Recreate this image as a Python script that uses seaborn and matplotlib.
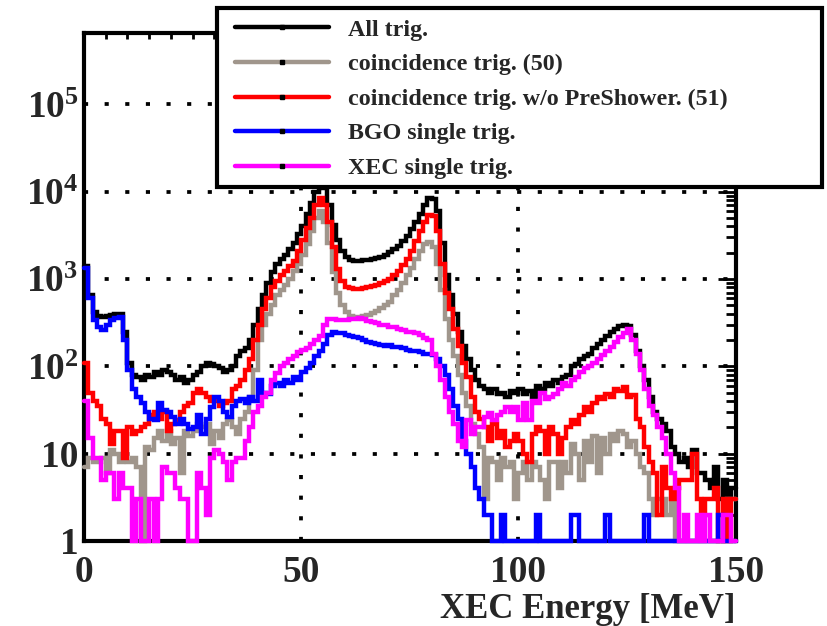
import numpy as np
import pandas as pd
import matplotlib
matplotlib.use("Agg")
import matplotlib.pyplot as plt
import seaborn as sns
from matplotlib.lines import Line2D
from matplotlib.patches import Rectangle
from matplotlib.ticker import MultipleLocator, LogLocator, NullFormatter

# ---------------- data (1 MeV bins, 0..150 MeV) ----------------
bin_edges = list(range(0, 151))

all_trig = [1400, 650, 420, 380, 370, 380, 390, 400, 400, 250,
            110, 80, 75, 70, 80, 75, 85, 80, 90, 85,
            80, 70, 75, 65, 70, 80, 85, 100, 110, 105,
            100, 95, 85, 90, 100, 130, 150, 160, 200, 300,
            450, 650, 900, 1200, 1500, 1700, 1900, 2200, 2600, 3300,
            4000, 5500, 7500, 10000, 13000, 11000, 7000, 4200, 2800, 2100,
            1800, 1650, 1600, 1600, 1650, 1650, 1700, 1750, 1800, 1900,
            2050, 2200, 2400, 2700, 3100, 3700, 4500, 5500, 7000, 8500,
            8200, 6000, 2600, 1100, 650, 400, 250, 170, 120, 90,
            70, 60, 55, 50, 55, 48, 50, 45, 52, 50,
            55, 48, 52, 45, 60, 55, 65, 60, 70, 65,
            75, 80, 100, 105, 120, 130, 140, 160, 180, 200,
            220, 250, 270, 290, 300, 290, 230, 150, 100, 70,
            45, 30, 25, 22, 18, 12, 10, 8, 9, 7,
            11, 6, 6, 5, 4, 7, 3, 5, 3, 4]

coinc50 = [7, 9, 8, 8, 9, 6, 11, 10, 8, 9,
           8, 9, 7, 1, 12, 11, 15, 18, 14, 18,
           13, 15, 6, 18, 16, 18, 22, 20, 22, 13,
           18, 15, 22, 24, 20, 17, 25, 30, 45, 90,
           200, 300, 400, 500, 650, 750, 850, 1000, 1250, 1500,
           1900, 2500, 3500, 5000, 6000, 4500, 2600, 1200, 700, 500,
           420, 380, 370, 370, 380, 390, 410, 430, 460, 500,
           550, 650, 750, 900, 1100, 1350, 1700, 2100, 2500, 2650,
           2300, 1500, 750, 350, 200, 130, 80, 50, 35, 22,
           17, 12, 3, 9, 8, 5, 9, 7, 8, 3,
           6, 8, 5, 8, 7, 5, 3, 8, 8, 4,
           8, 6, 13, 10, 5, 14, 8, 16, 6, 15,
           10, 17, 14, 18, 17, 12, 14, 10, 7, 6,
           3, 2, 3, 3, 2, 3, 1, 1, 1, 1,
           1, 1, 1, 1, 1, 1, 1, 1, 3, 3]

coinc51 = [110, 50, 40, 35, 25, 22, 13, 18, 18, 9,
           20, 17, 18, 20, 22, 28, 30, 25, 30, 18,
           22, 24, 30, 35, 38, 50, 55, 50, 45, 40,
           40, 35, 38, 40, 55, 60, 70, 90, 120, 200,
           300, 450, 600, 800, 950, 1100, 1250, 1400, 1600, 2100,
           2800, 3800, 5000, 7000, 8500, 7000, 4500, 2300, 1300, 950,
           820, 780, 760, 770, 790, 810, 830, 860, 900, 950,
           1000, 1100, 1250, 1450, 1700, 2100, 2700, 3500, 4500, 5400,
           5200, 3500, 1500, 700, 450, 270, 170, 110, 75, 45,
           30, 25, 20, 14, 22, 15, 18, 12, 14, 17,
           14, 10, 8, 17, 20, 18, 10, 20, 17, 10,
           15, 20, 24, 22, 28, 34, 30, 38, 45, 42,
           48, 45, 55, 52, 58, 45, 47, 25, 20, 12,
           8, 6, 2, 7, 4, 3, 4, 5, 5, 5,
           10, 3, 2, 3, 3, 4, 1, 3, 1, 3]

bgo_single = [1350, 600, 340, 280, 260, 300, 340, 360, 370, 200,
              90, 55, 45, 38, 30, 25, 24, 38, 32, 30,
              26, 22, 25, 22, 19, 20, 28, 17, 25, 34,
              45, 40, 30, 26, 35, 40, 42, 38, 45, 40,
              70, 50, 48, 60, 65, 60, 70, 65, 75, 70,
              85, 95, 110, 130, 150, 180, 230, 250, 240, 240,
              230, 220, 215, 210, 200, 190, 185, 180, 175, 170,
              175, 165, 165, 160, 155, 150, 150, 145, 140, 140,
              135, 120, 100, 80, 55, 35, 25, 14, 10, 7,
              4, 3, 2, 2, 1, 1, 2, 1, 1, 1,
              1, 1, 1, 1, 2, 1, 1, 1, 1, 1,
              1, 1, 2, 2, 1, 1, 1, 1, 1, 1,
              2, 1, 1, 1, 1, 1, 1, 1, 1, 2,
              1, 1, 1, 1, 1, 1, 1, 1, 1, 1,
              1, 1, 1, 1, 1, 1, 2, 1, 1, 1]

xec_single = [40, 15, 9, 9, 5, 6, 6, 3, 6, 4,
              4, 1, 3, 1, 1, 3, 1, 3, 7, 6,
              6, 4, 3, 3, 1, 1, 6, 4, 2, 9,
              11, 10, 8, 5, 8, 9, 9, 14, 20, 30,
              35, 44, 50, 70, 83, 100, 110, 120, 130, 145,
              155, 160, 180, 200, 220, 300, 350, 350, 340, 335,
              340, 345, 350, 355, 350, 330, 320, 310, 300, 295,
              285, 280, 270, 260, 250, 245, 240, 230, 210, 200,
              140, 100, 70, 45, 30, 22, 14, 12, 24, 17,
              20, 20, 26, 29, 24, 28, 30, 34, 30, 34,
              24, 38, 24, 40, 38, 50, 42, 45, 48, 55,
              65, 60, 70, 75, 85, 95, 100, 110, 120, 135,
              150, 165, 190, 215, 240, 270, 200, 140, 90, 55,
              35, 28, 20, 15, 10, 6, 4, 1, 2, 1,
              1, 2, 1, 2, 1, 1, 1, 2, 2, 1]

trigger_names = ["All trig.",
                 "coincidence trig. (50)",
                 "coincidence trig. w/o PreShower. (51)",
                 "BGO single trig.",
                 "XEC single trig."]
series_values = [all_trig, coinc50, coinc51, bgo_single, xec_single]
series_colors = ["#000000", "#a0968c", "#ff0000", "#0000ff", "#ff00ff"]

# ---------------- long-form table ----------------
rows = []
for name, vals in zip(trigger_names, series_values):
    ext = list(vals) + [vals[-1]]
    for e, v in zip(bin_edges, ext):
        rows.append({"energy": e, "counts": v, "trigger": name})
df = pd.DataFrame(rows)

# ---------------- style ----------------
sns.set_theme(style="white")
plt.rcParams.update({
    "font.family": ["Liberation Serif", "DejaVu Serif"],
    "font.weight": "bold",
    "mathtext.fontset": "custom",
    "mathtext.rm": "Liberation Serif:bold",
    "mathtext.it": "Liberation Serif:italic:bold",
    "mathtext.bf": "Liberation Serif:bold",
    "axes.edgecolor": "black",
    "axes.linewidth": 3,
})

fig = plt.figure(figsize=(8.27, 6.26), dpi=100)
ax = fig.add_axes([0.1016, 0.1358, 0.788, 0.811])

sns.lineplot(data=df, x="energy", y="counts", hue="trigger",
             hue_order=trigger_names, palette=series_colors,
             drawstyle="steps-post", linewidth=3.2, estimator=None,
             sort=False, legend=False, ax=ax)
for ln in ax.lines:
    ln.set_zorder(3)
    ln.set_clip_on(False)
    ln.set_solid_joinstyle("miter")

ax.set_yscale("log")
ax.set_xlim(0, 150)
ax.set_ylim(1, 6.5e5)

ax.set_xticks([0, 50, 100, 150])
ax.set_xticklabels(["0", "50", "100", "150"])
ax.xaxis.set_minor_locator(MultipleLocator(5))
ax.set_yticks([1, 10, 100, 1e3, 1e4, 1e5])
ax.set_yticklabels(["1", "10", r"$10^{2}$", r"$10^{3}$", r"$10^{4}$", r"$10^{5}$"])
ax.yaxis.set_minor_locator(LogLocator(base=10, subs=range(2, 10)))
ax.yaxis.set_minor_formatter(NullFormatter())

ax.tick_params(which="both", direction="in", top=True, right=True,
               width=2, color="black", labelsize=27)
ax.tick_params(axis="y", which="major", length=13, pad=4)
ax.tick_params(axis="y", which="minor", length=7)
ax.tick_params(axis="x", which="major", length=13, pad=10)
ax.tick_params(axis="x", which="minor", length=4)

ax.grid(True, which="major", color="black", linestyle=(0, (1.1, 4.4)),
        linewidth=2.7)
for sp in ax.spines.values():
    sp.set_linewidth(3)
    sp.set_color("black")
    sp.set_zorder(2.5)

ax.set_xlabel("XEC Energy [MeV]", loc="right", fontsize=25,
              fontweight="bold", labelpad=2)
ax.set_ylabel("")

# legend: separate frame rectangle + frameless legend placed inside it
W, H = 827.0, 626.0
frame = Rectangle((217 / W, 1 - 187 / H), (822 - 217) / W, (187 - 8) / H,
                  transform=fig.transFigure, facecolor="white",
                  edgecolor="black", linewidth=3, zorder=4)
fig.patches.append(frame)

handles = [Line2D([0], [0], color=c, lw=3.2, marker="s", markersize=3,
                  markerfacecolor="black", markeredgecolor="black")
           for c in series_colors]
leg = fig.legend(handles, trigger_names, loc="upper left",
                 bbox_to_anchor=(235 / W, 1 - 19 / H),
                 frameon=False, fontsize=17.3, handlelength=3.9,
                 handletextpad=0.8, labelspacing=0.53, borderpad=0,
                 borderaxespad=0, numpoints=1)
leg.set_zorder(5)
for t in leg.get_texts():
    t.set_fontweight("bold")

fig.savefig("out.png", dpi=100, facecolor="white")
